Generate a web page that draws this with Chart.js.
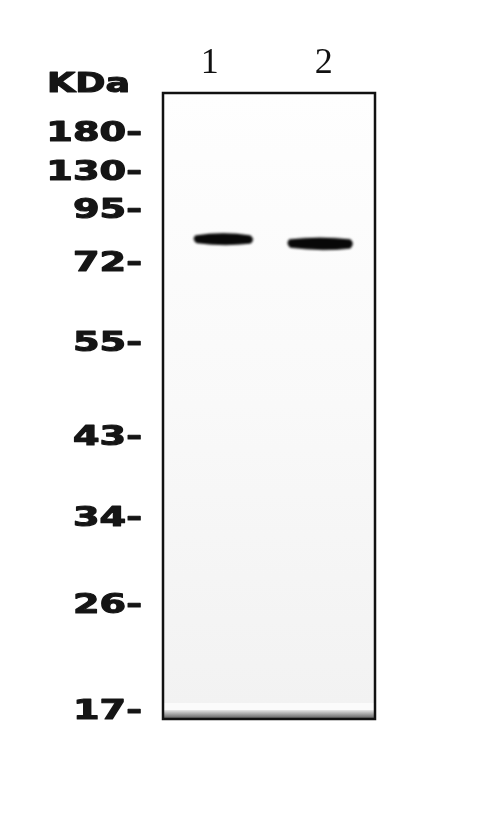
<!DOCTYPE html>
<html>
<head>
<meta charset="utf-8">
<script src="https://cdn.jsdelivr.net/npm/chart.js@4.4.1/dist/chart.umd.min.js"></script>
<style>
  html, body { margin: 0; padding: 0; background: #fff; }
  #wrap { width: 500px; height: 819px; }
</style>
</head>
<body>
<div id="wrap"><canvas id="blot" width="500" height="819"></canvas></div>
<script>
const laneLabels = ['1', '2'];
const laneNumbers = [1, 2];
const markerKDa = ['180', '130', '95', '72', '55', '43', '34', '26', '17'];
const markerPos = [6.4, 12.6, 18.7, 27.2, 40.0, 55.0, 67.9, 81.8, 98.7];
const bandLane = [1.12, 1.97];
const bandPos = [23.3, 24.0];
const bandWidth = [60, 66];

function makeBand(w, h, skew) {
    const c = document.createElement('canvas');
    c.width = w + 16;
    c.height = h + 16;
    const g = c.getContext('2d');
    g.filter = 'blur(1.3px)';
    g.fillStyle = '#080808';
    const x0 = 8, y0 = 8;
    g.beginPath();
    g.moveTo(x0 + 2, y0 + h * 0.2);
    g.quadraticCurveTo(x0 + w * 0.5, y0 - 2 + skew, x0 + w - 3, y0 + h * 0.2);
    g.quadraticCurveTo(x0 + w + 2, y0 + h * 0.55, x0 + w - 3, y0 + h * 0.9);
    g.quadraticCurveTo(x0 + w * 0.5, y0 + h + 2, x0 + 3, y0 + h * 0.85);
    g.quadraticCurveTo(x0 - 2, y0 + h * 0.5, x0 + 2, y0 + h * 0.2);
    g.fill();
    return c;
}

const bandImages = bandWidth.map((w, i) => makeBand(w, i === 0 ? 12 : 13, i === 0 ? 0 : 1));

const membranePlugin = {
    id: 'membrane',
    beforeDatasetsDraw(chart) {
        const { ctx, chartArea: a } = chart;
        ctx.save();
        const grad = ctx.createLinearGradient(0, a.top, 0, a.bottom);
        grad.addColorStop(0, '#fefefe');
        grad.addColorStop(0.5, '#f9f9f9');
        grad.addColorStop(0.98, '#f2f2f2');
        grad.addColorStop(1, '#f2f2f2');
        ctx.fillStyle = grad;
        ctx.fillRect(a.left, a.top, a.right - a.left, a.bottom - a.top);
        // light strip and shadow at the bottom edge
        ctx.fillStyle = '#fbfbfb';
        ctx.fillRect(a.left, a.bottom - 16, a.right - a.left, 7);
        const sh = ctx.createLinearGradient(0, a.bottom - 9, 0, a.bottom);
        sh.addColorStop(0, '#e6e6e6');
        sh.addColorStop(1, '#555');
        ctx.fillStyle = sh;
        ctx.fillRect(a.left, a.bottom - 9, a.right - a.left, 9);
        ctx.restore();
    },
    afterDatasetsDraw(chart) {
        const { ctx, chartArea: a } = chart;
        const y = chart.scales.y;
        ctx.save();
        ctx.strokeStyle = '#111';
        ctx.lineWidth = 2.5;
        ctx.strokeRect(a.left, a.top, a.right - a.left, a.bottom - a.top);

        ctx.fillStyle = '#151515';
        ctx.strokeStyle = '#151515';
        ctx.lineWidth = 1.1;
        ctx.lineJoin = 'round';
        ctx.font = 'bold 26px "DejaVu Sans"';
        ctx.textAlign = 'right';
        ctx.textBaseline = 'middle';
        markerKDa.forEach((label, i) => {
            ctx.save();
            ctx.translate(a.left - 21, y.getPixelForValue(markerPos[i]) + 1);
            ctx.scale(1.47, 1);
            ctx.fillText(label + '-', 0, 0);
            ctx.strokeText(label + '-', 0, 0);
            ctx.restore();
        });
        ctx.save();
        ctx.translate(a.left - 33, a.top - 8);
        ctx.scale(1.4, 1);
        ctx.fillText('KDa', 0, 0);
        ctx.strokeText('KDa', 0, 0);
        ctx.restore();
        ctx.restore();
    }
};

new Chart(document.getElementById('blot'), {
    type: 'scatter',
    data: {
        datasets: [{
            data: bandLane.map((x, i) => ({ x, y: bandPos[i] })),
            pointStyle: ctx => bandImages[ctx.dataIndex],
            pointRadius: 10,
        }]
    },
    options: {
        responsive: false,
        animation: false,
        events: [],
        layout: { padding: { left: 163, right: 125, top: 43, bottom: 100 } },
        plugins: { legend: { display: false }, tooltip: { enabled: false } },
        scales: {
            x: {
                type: 'linear',
                position: 'top',
                min: 0.59,
                max: 2.45,
                afterFit: s => { s.height = 50; },
                afterBuildTicks: s => { s.ticks = laneNumbers.map(v => ({ value: v })); },
                grid: { display: false },
                border: { display: false },
                ticks: {
                    padding: 0,
                    color: '#111',
                    font: { family: '"Liberation Serif"', size: 36 },
                    callback: v => laneLabels[laneNumbers.indexOf(v)],
                },
            },
            y: {
                type: 'linear',
                display: false,
                reverse: true,
                min: 0,
                max: 100,
            },
        },
    },
    plugins: [membranePlugin],
});
</script>
</body>
</html>
